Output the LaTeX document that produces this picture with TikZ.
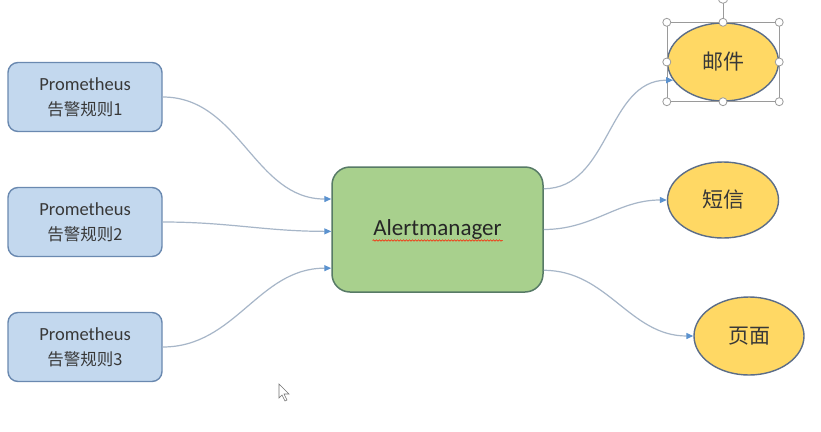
\documentclass[tikz,border=0pt]{standalone}
\usepackage{fontspec}
\setmainfont{Carlito}
\newfontfamily\cjk{Noto Sans CJK SC}
\usetikzlibrary{arrows.meta,shapes.geometric,decorations.pathmorphing}
\definecolor{boxblue}{HTML}{C3D8EE}
\definecolor{boxblueline}{HTML}{6A89B0}
\definecolor{boxgreen}{HTML}{A8D08D}
\definecolor{boxgreenline}{HTML}{577A66}
\definecolor{ellyellow}{HTML}{FFD864}
\definecolor{ellline}{HTML}{5B6D88}
\definecolor{connline}{HTML}{A7B6C8}
\definecolor{tipblue}{HTML}{5B92CF}
\definecolor{txt}{HTML}{383838}
\definecolor{handle}{HTML}{9A9A9A}
\tikzset{
  srcbox/.style={draw=boxblueline, line width=1.4pt, fill=boxblue, rounded corners=10pt,
    minimum width=154pt, minimum height=69pt, inner sep=0pt, align=center, text=txt,
    font=\fontsize{18.5}{25}\selectfont},
  mgrbox/.style={draw=boxgreenline, line width=1.5pt, fill=boxgreen, rounded corners=18pt,
    minimum width=211pt, minimum height=125pt, inner sep=0pt, text=black!85,
    font=\fontsize{23}{26}\selectfont},
  dest/.style={ellipse, draw=ellline, line width=1.4pt, fill=ellyellow, inner sep=0pt,
    minimum width=111pt, minimum height=78pt, text=txt, font=\cjk\fontsize{21}{24}\selectfont},
  conn/.style={draw=connline, line width=1.2pt,
    -{Triangle[length=7pt,width=6pt,color=tipblue]}},
  hdl/.style={circle, draw=handle, fill=white, line width=0.8pt, minimum size=8pt, inner sep=0pt}
}
\begin{document}
\begin{tikzpicture}[x=1pt,y=-1pt]
\useasboundingbox[fill=white] (0,0) rectangle (821,431);
% source boxes
\node[srcbox] (p1) at (85,97) {Prometheus\\{\cjk\fontsize{16.5}{25}\selectfont 告警规则1}};
\node[srcbox] (p2) at (85,222) {Prometheus\\{\cjk\fontsize{16.5}{25}\selectfont 告警规则2}};
\node[srcbox] (p3) at (85,347) {Prometheus\\{\cjk\fontsize{16.5}{25}\selectfont 告警规则3}};
% manager
\node[mgrbox] (am) at (437.5,229.5) {Alertmanager};
\draw[decorate, decoration={snake, amplitude=0.7pt, segment length=3pt}, draw=red!75!orange, line width=0.6pt]
  ([xshift=-65pt,yshift=-11pt]am.center) -- ([xshift=65pt,yshift=-11pt]am.center);
% destinations
\node[dest] (yj) at (723,62) {邮件};
\node[dest, minimum height=76pt] (dx) at (723,200) {短信};
\node[dest, minimum width=110pt] (ym) at (749,336) {页面};
% selection frame on first destination
\draw[draw=handle, line width=0.6pt] (yj.west |- yj.north) rectangle (yj.east |- yj.south);
\draw[draw=handle, line width=0.8pt] (yj.north) -- ++(0,-22);
\node[hdl, minimum size=10pt] (rot) at ([yshift=24pt]yj.north) {};
\node[hdl] (h1) at (yj.west |- yj.north) {};
\node[hdl] (h2) at (yj.north) {};
\node[hdl] (h3) at (yj.east |- yj.north) {};
\node[hdl] (h4) at (yj.west) {};
\node[hdl] (h5) at (yj.east) {};
\node[hdl] (h6) at (yj.west |- yj.south) {};
\node[hdl] (h7) at (yj.south) {};
\node[hdl] (h8) at (yj.east |- yj.south) {};
% connectors
\draw[conn] (p1.east) to[out=0,in=180] (am.164.4);
\draw[conn] (p2.east) to[out=0,in=180] (am.181.4);
\draw[conn] (p3.east) to[out=0,in=180] (am.200);
\draw[conn] (am.21.9) to[out=0,in=180] (yj.200);
\draw[conn] (am.0) to[out=0,in=180] (dx.west);
\draw[conn] (am.339.5) to[out=0,in=180] (ym.west);
% mouse pointer
\draw[draw=black!55, fill=white, line width=0.6pt] (279,384) -- (279,398) -- (282,395) -- (285,401) -- (287,400) -- (284,394) -- (289,394) -- cycle;
\end{tikzpicture}
\end{document}
